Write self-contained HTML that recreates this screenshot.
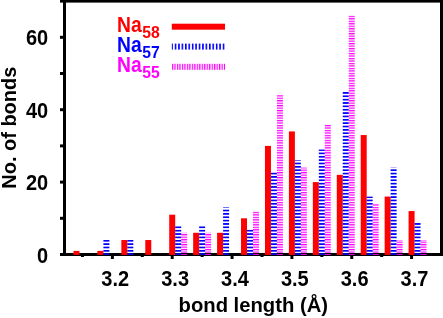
<!DOCTYPE html>
<html><head><meta charset="utf-8"><title>bond length histogram</title>
<style>
html,body{margin:0;padding:0;background:#fff;}
body{width:443px;height:318px;overflow:hidden;}
svg{display:block;will-change:transform;}
text{font-family:"Liberation Sans",sans-serif;font-weight:bold;font-size:20px;fill:#000;}
</style></head><body>
<svg width="443" height="318" viewBox="0 0 443 318">
<defs>
<pattern id="pb" patternUnits="userSpaceOnUse" x="0" y="1.360" width="10" height="3.360"><rect x="0" y="0" width="10" height="1.680" fill="#0000ff"/></pattern>
<pattern id="pp" patternUnits="userSpaceOnUse" x="0" y="0.847" width="10" height="2.482"><rect x="0" y="0" width="10" height="1.240" fill="#ff00ff"/></pattern>
<pattern id="lb" patternUnits="userSpaceOnUse" x="3.377" y="0" width="3.427" height="10"><rect x="0" y="0" width="1.600" height="10" fill="#0000ff"/></pattern>
<pattern id="lp" patternUnits="userSpaceOnUse" x="0.663" y="0" width="2.482" height="10"><rect x="0" y="0" width="1.240" height="10" fill="#ff00ff"/></pattern>
</defs>
<rect x="0" y="0" width="443" height="318" fill="#fff"/>

<g stroke="#000" stroke-width="3" fill="none">
<rect x="64.50" y="1.10" width="377.00" height="253.40"/>
<line x1="60" y1="254.50" x2="64.50" y2="254.50"/>
<line x1="60" y1="218.30" x2="64.50" y2="218.30"/>
<line x1="60" y1="182.10" x2="64.50" y2="182.10"/>
<line x1="60" y1="145.90" x2="64.50" y2="145.90"/>
<line x1="60" y1="109.70" x2="64.50" y2="109.70"/>
<line x1="60" y1="73.50" x2="64.50" y2="73.50"/>
<line x1="60" y1="37.30" x2="64.50" y2="37.30"/>
<line x1="60" y1="1.10" x2="64.50" y2="1.10"/>
<line x1="112.37" y1="254.50" x2="112.37" y2="259"/>
<line x1="172.21" y1="254.50" x2="172.21" y2="259"/>
<line x1="232.06" y1="254.50" x2="232.06" y2="259"/>
<line x1="291.90" y1="254.50" x2="291.90" y2="259"/>
<line x1="351.74" y1="254.50" x2="351.74" y2="259"/>
<line x1="411.58" y1="254.50" x2="411.58" y2="259"/>
<line x1="82.45" y1="254.50" x2="82.45" y2="257"/>
<line x1="142.29" y1="254.50" x2="142.29" y2="257"/>
<line x1="202.13" y1="254.50" x2="202.13" y2="257"/>
<line x1="261.98" y1="254.50" x2="261.98" y2="257"/>
<line x1="321.82" y1="254.50" x2="321.82" y2="257"/>
<line x1="381.66" y1="254.50" x2="381.66" y2="257"/>
</g>
<rect x="73.48" y="250.88" width="5.98" height="4.02" fill="#ff0000"/>
<rect x="97.41" y="250.88" width="5.98" height="4.02" fill="#ff0000"/>
<rect x="103.40" y="240.02" width="5.98" height="14.88" fill="url(#pb)"/>
<rect x="121.35" y="240.02" width="5.98" height="14.88" fill="#ff0000"/>
<rect x="127.33" y="240.02" width="5.98" height="14.88" fill="url(#pb)"/>
<rect x="145.29" y="240.02" width="5.98" height="14.88" fill="#ff0000"/>
<rect x="169.22" y="214.68" width="5.98" height="40.22" fill="#ff0000"/>
<rect x="175.21" y="225.54" width="5.98" height="29.36" fill="url(#pb)"/>
<rect x="181.19" y="232.78" width="5.98" height="22.12" fill="url(#pp)"/>
<rect x="193.16" y="232.78" width="5.98" height="22.12" fill="#ff0000"/>
<rect x="199.14" y="225.54" width="5.98" height="29.36" fill="url(#pb)"/>
<rect x="205.13" y="232.78" width="5.98" height="22.12" fill="url(#pp)"/>
<rect x="217.10" y="232.78" width="5.98" height="22.12" fill="#ff0000"/>
<rect x="223.08" y="207.44" width="5.98" height="47.46" fill="url(#pb)"/>
<rect x="241.03" y="218.30" width="5.98" height="36.60" fill="#ff0000"/>
<rect x="247.02" y="229.16" width="5.98" height="25.74" fill="url(#pb)"/>
<rect x="253.00" y="211.06" width="5.98" height="43.84" fill="url(#pp)"/>
<rect x="264.97" y="145.90" width="5.98" height="109.00" fill="#ff0000"/>
<rect x="270.95" y="171.24" width="5.98" height="83.66" fill="url(#pb)"/>
<rect x="276.94" y="95.22" width="5.98" height="159.68" fill="url(#pp)"/>
<rect x="288.90" y="131.42" width="5.98" height="123.48" fill="#ff0000"/>
<rect x="294.89" y="160.38" width="5.98" height="94.52" fill="url(#pb)"/>
<rect x="300.87" y="167.62" width="5.98" height="87.28" fill="url(#pp)"/>
<rect x="312.84" y="182.10" width="5.98" height="72.80" fill="#ff0000"/>
<rect x="318.83" y="149.52" width="5.98" height="105.38" fill="url(#pb)"/>
<rect x="324.81" y="124.18" width="5.98" height="130.72" fill="url(#pp)"/>
<rect x="336.78" y="174.86" width="5.98" height="80.04" fill="#ff0000"/>
<rect x="342.76" y="91.60" width="5.98" height="163.30" fill="url(#pb)"/>
<rect x="348.75" y="15.58" width="5.98" height="239.32" fill="url(#pp)"/>
<rect x="360.71" y="135.04" width="5.98" height="119.86" fill="#ff0000"/>
<rect x="366.70" y="196.58" width="5.98" height="58.32" fill="url(#pb)"/>
<rect x="372.68" y="203.82" width="5.98" height="51.08" fill="url(#pp)"/>
<rect x="384.65" y="196.58" width="5.98" height="58.32" fill="#ff0000"/>
<rect x="390.63" y="167.62" width="5.98" height="87.28" fill="url(#pb)"/>
<rect x="396.62" y="240.02" width="5.98" height="14.88" fill="url(#pp)"/>
<rect x="408.59" y="211.06" width="5.98" height="43.84" fill="#ff0000"/>
<rect x="414.57" y="221.92" width="5.98" height="32.98" fill="url(#pb)"/>
<rect x="420.56" y="240.02" width="5.98" height="14.88" fill="url(#pp)"/>
<rect x="171.8" y="23.7" width="53.2" height="6" fill="#ff0000"/>
<rect x="171.8" y="43.6" width="53.2" height="6" fill="url(#lb)"/>
<rect x="171.8" y="63.8" width="53.2" height="6" fill="url(#lp)"/>
<text transform="translate(117.00,31.60) scale(0.9650,1.0650)" text-anchor="start" style="fill:#ff0000">Na<tspan dx="0.7" dy="5.75" style="font-size:16.3px">58</tspan></text>
<text transform="translate(117.00,51.95) scale(0.9650,1.0650)" text-anchor="start" style="fill:#0000ff">Na<tspan dx="0.7" dy="5.75" style="font-size:16.3px">57</tspan></text>
<text transform="translate(117.00,72.30) scale(0.9650,1.0650)" text-anchor="start" style="fill:#ff00ff">Na<tspan dx="0.7" dy="5.75" style="font-size:16.3px">55</tspan></text>
<text transform="translate(48.20,262.60) scale(1.0000,1.1150)" text-anchor="end">0</text>
<text transform="translate(48.20,190.20) scale(1.0000,1.1150)" text-anchor="end">20</text>
<text transform="translate(48.20,117.80) scale(1.0000,1.1150)" text-anchor="end">40</text>
<text transform="translate(48.20,45.40) scale(1.0000,1.1150)" text-anchor="end">60</text>
<text transform="translate(115.27,285.80) scale(1.0000,1.0650)" text-anchor="middle">3.2</text>
<text transform="translate(175.11,285.80) scale(1.0000,1.0650)" text-anchor="middle">3.3</text>
<text transform="translate(234.96,285.80) scale(1.0000,1.0650)" text-anchor="middle">3.4</text>
<text transform="translate(294.80,285.80) scale(1.0000,1.0650)" text-anchor="middle">3.5</text>
<text transform="translate(354.64,285.80) scale(1.0000,1.0650)" text-anchor="middle">3.6</text>
<text transform="translate(414.48,285.80) scale(1.0000,1.0650)" text-anchor="middle">3.7</text>
<text transform="translate(253.30,311.60) scale(1.0130,1.0350)" text-anchor="middle">bond length (&#197;)</text>
<text transform="translate(15.80,127.70) rotate(-90) scale(1.0000,1.0450)" text-anchor="middle">No. of bonds</text>
</svg></body></html>
